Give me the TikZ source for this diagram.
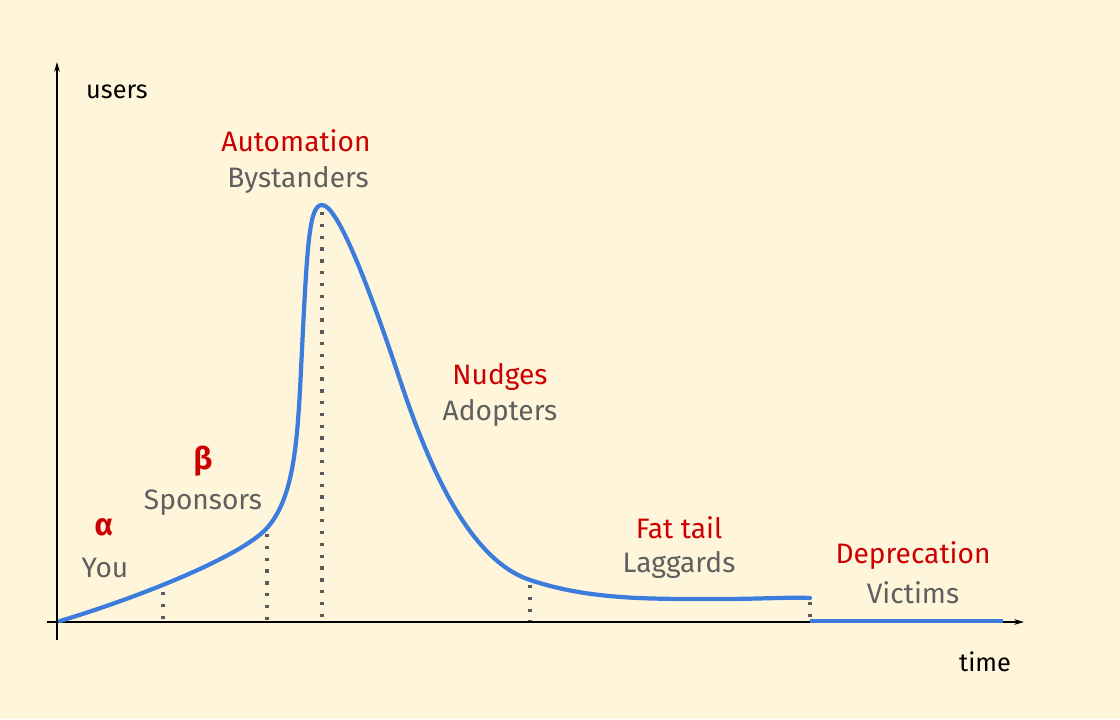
\documentclass[tikz,border=0pt]{standalone}
\usepackage{fontspec}
\setmainfont{Fira Sans}
\usetikzlibrary{positioning, arrows.meta}
\definecolor{paper}{RGB}{255,245,218}
\definecolor{curveblue}{RGB}{59,124,220}
\definecolor{stagered}{RGB}{204,0,0}
\definecolor{usergray}{RGB}{95,95,95}
\tikzset{
    stage/.style={
        text=stagered, % 阶段名称为红色
        inner sep=0,
        font=\fontsize{20}{22}\selectfont
    },
    who/.style={
        text=usergray, % 用户群为灰色
        inner sep=0,
        font=\fontsize{20}{22}\selectfont
    },
    greek/.style={
        text=stagered,
        inner sep=0,
        font=\bfseries\fontsize{22}{24}\selectfont
    },
    axislabel/.style={
        text=black,
        inner sep=0,
        font=\fontsize{18}{20}\selectfont
    },
    guide/.style={
        draw=usergray!95!black,
        line width=2.4pt,
        dash pattern=on 2.4pt off 6pt
    },
    bluecurve/.style={
        curveblue,
        line width=3pt,
        line cap=round
    }
}

\begin{document}
\begin{tikzpicture}[x=0.025cm, y=-0.025cm]
    % 背景
    \fill[paper] (0,0) rectangle (1120,719);
    \useasboundingbox (0,0) rectangle (1120,719);

    % 坐标轴
    \coordinate (ybot) at (57,640);
    \coordinate (ytop) at (57,62);
    \coordinate (xleft) at (47,622);
    \coordinate (xright) at (1024,622);
    \draw[line width=0.8pt, -{Stealth[length=7pt,width=4pt]}] (ybot) -- (ytop);
    \draw[line width=0.8pt, -{Stealth[length=7pt,width=4pt]}] (xleft) -- (xright);
    \node[axislabel] (users) at (117,92) {users};
    \node[axislabel] (time) at (985,662) {time};

    % 虚线
    \foreach \name/\x/\y in {you/163/592, spon/267/534, peak/322/212, adopt/530/585, tail/810/602} {
        \coordinate (\name top) at (\x,\y);
        \coordinate (\name bot) at (\x,621);
        \draw[guide] (\name top) -- (\name bot);
    }

    % 曲线
    \draw[bluecurve]
        (60,621) .. controls (140,597) and (242,556) .. (267,528)
        .. controls (292,500) and (296.6,450) .. (300,390)
        .. controls (307,250) and (308,205) .. (322,205)
        .. controls (338,205) and (370,290) .. (400,380)
        .. controls (430,470) and (470,560) .. (530,580)
        .. controls (590,600) and (650,599) .. (720,599)
        .. controls (760,599) and (790,597) .. (810,598);
    \coordinate (dep start) at (810,621);
    \coordinate (dep end) at (1003,621);
    \draw[bluecurve, line cap=butt] (dep start) -- (dep end);

    % 标签
    \node[greek] (alpha) at (104,527) {α};
    \node[who] (you) at (105,568) {You};
    \node[greek] (beta) at (203,461) {β};
    \node[who] (sponsors) at (203,503) {Sponsors};
    \node[stage] (automation) at (296,141) {Automation};
    \node[who] (bystanders) at (298,180) {Bystanders};
    \node[stage] (nudges) at (500,377) {Nudges};
    \node[who] (adopters) at (500,413) {Adopters};
    \node[stage] (fattail) at (679,528) {Fat tail};
    \node[who] (laggards) at (679,565) {Laggards};
    \node[stage] (deprecation) at (913,556) {Deprecation};
    \node[who] (victims) at (913,593) {Victims};
\end{tikzpicture}
\end{document}
